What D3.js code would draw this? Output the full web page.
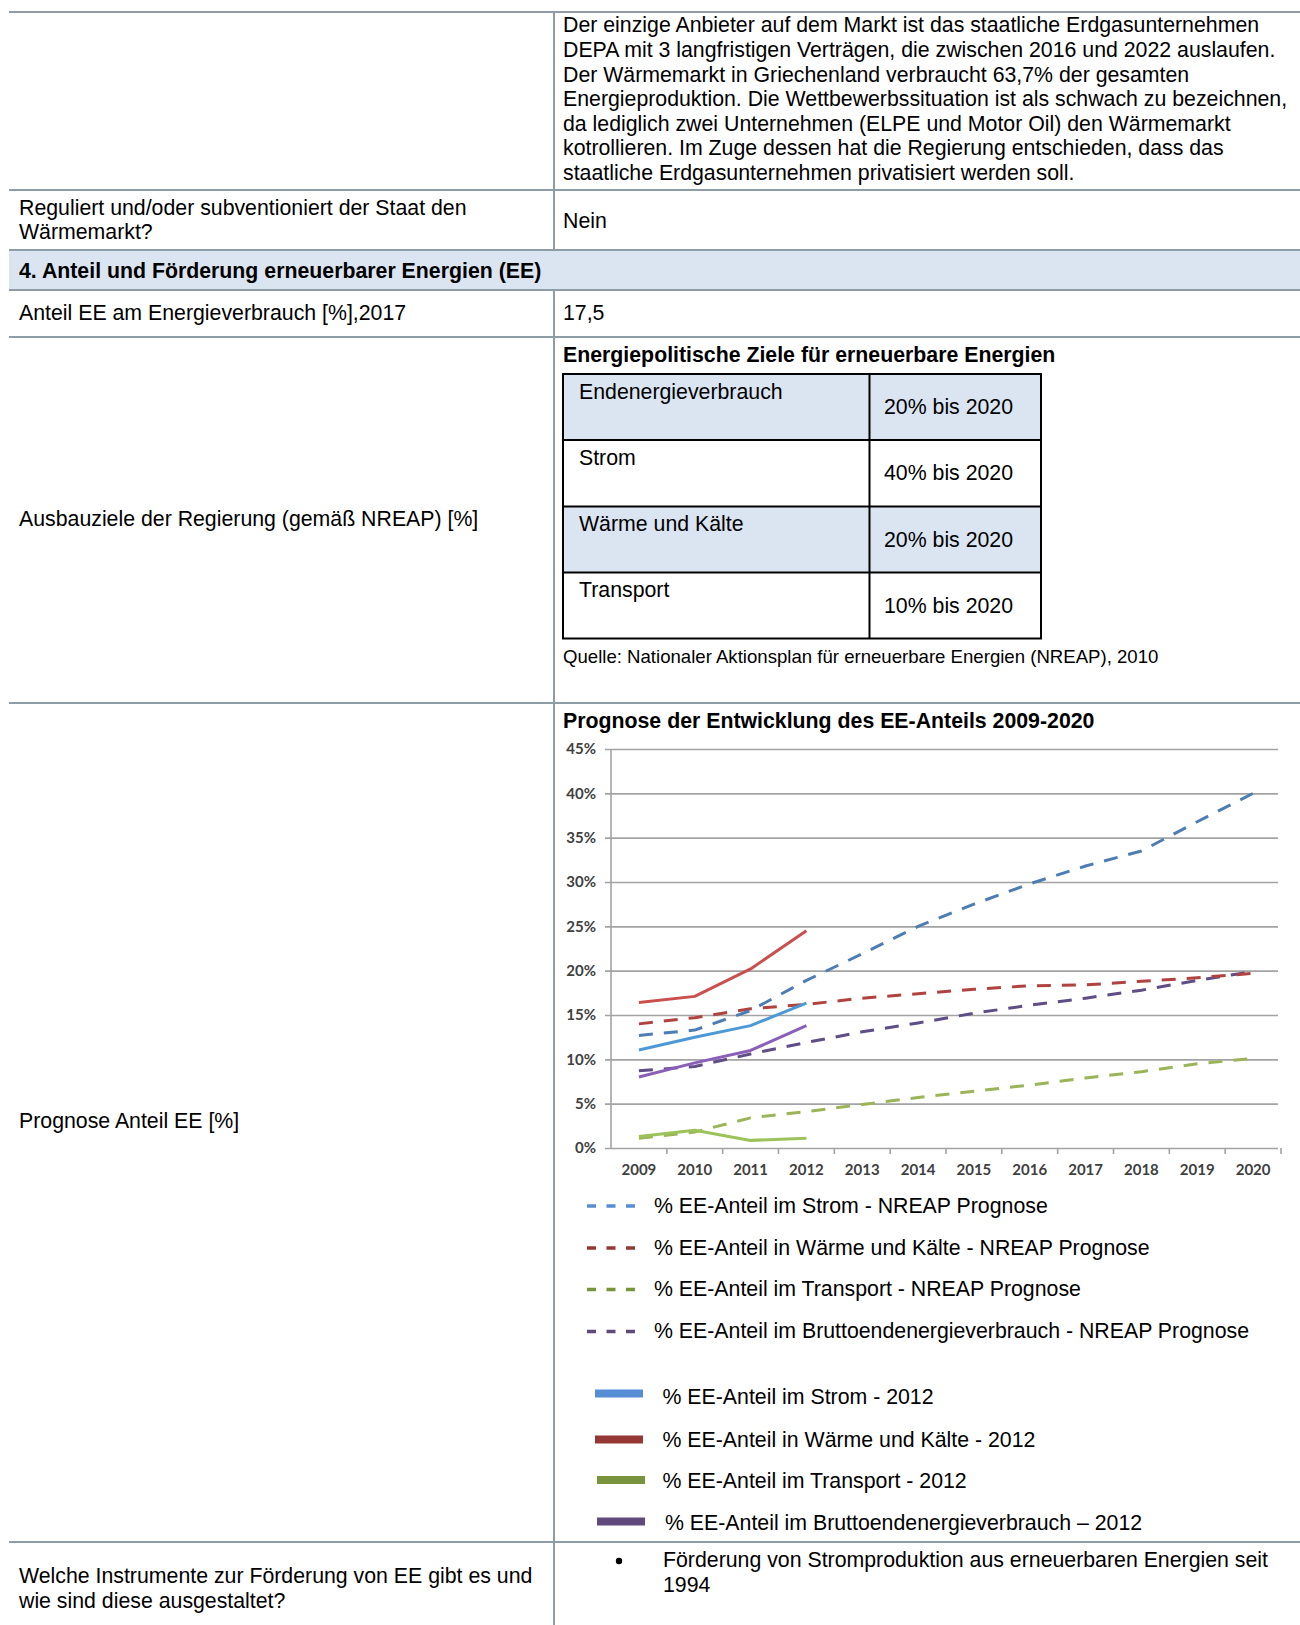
<!DOCTYPE html>
<html><head><meta charset="utf-8">
<script src="https://cdn.jsdelivr.net/npm/d3@7"></script>
<style>
html,body{margin:0;padding:0;background:#fff;}
svg{display:block;}
</style></head>
<body>
<script>
// ---- data ----
const years = ["2009","2010","2011","2012","2013","2014","2015","2016","2017","2018","2019","2020"];
const yTicks = [0,5,10,15,20,25,30,35,40,45];
const stromPrognose    = [12.7,13.3,15.5,18.9,21.9,25.0,27.5,29.8,31.8,33.5,36.8,40.0];
const waermePrognose   = [14.0,14.7,15.7,16.2,16.9,17.4,17.9,18.3,18.4,18.8,19.2,19.7];
const transportPrognose= [1.1,1.8,3.4,4.1,4.9,5.7,6.4,7.1,7.9,8.6,9.5,10.1];
const bruttoPrognose   = [8.7,9.2,10.6,11.9,13.1,14.1,15.2,16.1,16.9,17.8,18.9,19.9];
const istYears = ["2009","2010","2011","2012"];
const stromIst     = [11.05,12.5,13.8,16.35];
const waermeIst    = [16.4,17.1,20.2,24.5];
const transportIst = [1.3,2.0,0.85,1.1];
const bruttoIst    = [8.0,9.6,11.0,13.8];
const prognoseLabels = ["% EE-Anteil im Strom - NREAP Prognose","% EE-Anteil in Wärme und Kälte - NREAP Prognose","% EE-Anteil im Transport - NREAP Prognose","% EE-Anteil im Bruttoendenergieverbrauch - NREAP Prognose"];
const istLabels = ["% EE-Anteil im Strom - 2012","% EE-Anteil in Wärme und Kälte - 2012","% EE-Anteil im Transport - 2012","% EE-Anteil im Bruttoendenergieverbrauch – 2012"];
const zielKategorien = ["Endenergieverbrauch","Strom","Wärme und Kälte","Transport"];
const zielWerte = ["20% bis 2020","40% bis 2020","20% bis 2020","10% bis 2020"];

const W = 1300, H = 1625;
const svg = d3.select("body").append("svg").attr("width",W).attr("height",H);
const FONT = "'Liberation Sans', Arial, sans-serif";
const FS = 21.3;

function txt(x, cy, s, o={}) {
  const t = svg.append("text").attr("x",x).attr("y",cy + (o.fs||FS)*0.35)
    .attr("font-family",o.ff||FONT).attr("font-size",o.fs||FS)
    .attr("fill",o.fill||"#000").text(s);
  if (o.bold) t.attr("font-weight","bold");
  if (o.anchor) t.attr("text-anchor",o.anchor);
  return t;
}

// ---- outer table ----
const lineColor = "#8d9ca6";
svg.append("rect").attr("x",9).attr("y",250).attr("width",W-9).attr("height",40).attr("fill","#dbe5f1");
[12,190,250,290,337,703,1542].forEach(y=>{
  svg.append("line").attr("x1",9).attr("x2",W).attr("y1",y).attr("y2",y).attr("stroke",lineColor).attr("stroke-width",2);
});
svg.append("line").attr("x1",554).attr("x2",554).attr("y1",12).attr("y2",250).attr("stroke",lineColor).attr("stroke-width",2);
svg.append("line").attr("x1",554).attr("x2",554).attr("y1",290).attr("y2",H).attr("stroke",lineColor).attr("stroke-width",2);

const para = ["Der einzige Anbieter auf dem Markt ist das staatliche Erdgasunternehmen",
"DEPA mit 3 langfristigen Verträgen, die zwischen 2016 und 2022 auslaufen.",
"Der Wärmemarkt in Griechenland verbraucht 63,7% der gesamten",
"Energieproduktion. Die Wettbewerbssituation ist als schwach zu bezeichnen,",
"da lediglich zwei Unternehmen (ELPE und Motor Oil) den Wärmemarkt",
"kotrollieren. Im Zuge dessen hat die Regierung entschieden, dass das",
"staatliche Erdgasunternehmen privatisiert werden soll."];
para.forEach((s,i)=>txt(563, 25 + i*24.55, s));
txt(19, 208, "Reguliert und/oder subventioniert der Staat den");
txt(19, 232, "Wärmemarkt?");
txt(563, 220.5, "Nein");
txt(19, 270.5, "4. Anteil und Förderung erneuerbarer Energien (EE)", {bold:true});
txt(19, 313, "Anteil EE am Energieverbrauch [%],2017");
txt(563, 313, "17,5");
txt(19, 519, "Ausbauziele der Regierung (gemäß NREAP) [%]");
txt(563, 355, "Energiepolitische Ziele für erneuerbare Energien", {bold:true});

// inner table
const rowsY = [374,440,506.5,572.5,638.5];
zielKategorien.forEach((k,i)=>{
  if (i%2===0) svg.append("rect").attr("x",563).attr("y",rowsY[i]).attr("width",1041-563).attr("height",rowsY[i+1]-rowsY[i]).attr("fill","#dbe5f1");
});
rowsY.forEach(y=>svg.append("line").attr("x1",562).attr("x2",1042).attr("y1",y).attr("y2",y).attr("stroke","#000").attr("stroke-width",2));
[563,869.5,1041].forEach(x=>svg.append("line").attr("x1",x).attr("x2",x).attr("y1",rowsY[0]).attr("y2",rowsY[4]).attr("stroke","#000").attr("stroke-width",2));
zielKategorien.forEach((k,i)=>{
  txt(579, rowsY[i]+17.5, k);
  txt(884, rowsY[i]+33, zielWerte[i]);
});
txt(563, 656.5, "Quelle: Nationaler Aktionsplan für erneuerbare Energien (NREAP), 2010", {fs:18.6});

txt(19, 1121, "Prognose Anteil EE [%]");
txt(563, 721, "Prognose der Entwicklung des EE-Anteils 2009-2020", {bold:true});

// ---- chart ----
const x = d3.scaleBand().domain(years).range([611,1281]).padding(0);
const y = d3.scaleLinear().domain([0,45]).range([1148,749]);
const cx = d => x(d) + x.bandwidth()/2;
const grid = "#a3a3a3";

const gy = svg.append("g").attr("transform","translate(611,0)")
  .call(d3.axisLeft(y).tickValues(yTicks).tickSize(6).tickFormat(d=>d+"%"));
gy.select(".domain").remove();
gy.selectAll(".tick line").attr("x1",-6).attr("x2",667).attr("stroke",grid).attr("stroke-width",1.6);
gy.selectAll(".tick text").attr("x",-15).attr("font-family","Lato, 'Open Sans', sans-serif")
  .attr("font-weight","bold").attr("font-size",15).attr("fill","#404040");
svg.append("line").attr("x1",611).attr("x2",611).attr("y1",y(45)).attr("y2",y(0)).attr("stroke",grid).attr("stroke-width",1.6);

const gx = svg.append("g").attr("transform",`translate(0,${y(0)})`)
  .call(d3.axisBottom(x).tickSize(0).tickPadding(16));
gx.select(".domain").remove();
gx.selectAll(".tick text").attr("font-family","Lato, 'Open Sans', sans-serif")
  .attr("font-weight","bold").attr("font-size",15).attr("fill","#404040");
years.slice(1).concat(["end"]).forEach(yr=>{
  const xx = yr==="end" ? x.range()[1] : x(yr);
  svg.append("line").attr("x1",xx).attr("x2",xx).attr("y1",y(0)).attr("y2",y(0)+6).attr("stroke",grid).attr("stroke-width",1.6);
});

const line = d3.line().x((d,i)=>d[0]).y(d=>y(d[1]));
function drawSeries(cats, vals, color, dashed, w) {
  svg.append("path").datum(cats.map((c,i)=>[cx(c),vals[i]]))
    .attr("d",line).attr("fill","none").attr("stroke",color).attr("stroke-width",w||3)
    .attr("stroke-linejoin","round")
    .attr("stroke-dasharray",dashed?"14,11":null);
}
drawSeries(years, transportPrognose, "#9bb457", true);
drawSeries(years, bruttoPrognose, "#5f4d86", true);
drawSeries(years, waermePrognose, "#b0423f", true);
drawSeries(years, stromPrognose, "#4d7db2", true);
drawSeries(istYears, transportIst, "#9cc35a", false, 3.2);
drawSeries(istYears, bruttoIst, "#8a5fb8", false);
drawSeries(istYears, stromIst, "#4c99d6", false);
drawSeries(istYears, waermeIst, "#c9504e", false);

// ---- legend ----
const legColors = ["#558ed5","#953735","#77933c","#604a7b"];
const legDashY = [1206,1248,1289.5,1331.5];
prognoseLabels.forEach((s,i)=>{
  svg.append("line").attr("x1",587).attr("x2",635).attr("y1",legDashY[i]).attr("y2",legDashY[i])
    .attr("stroke",legColors[i]).attr("stroke-width",3.6).attr("stroke-dasharray","9,10.5");
  txt(654, legDashY[i]-0.5, s);
});
const legSolidY = [1393.5,1439.5,1480,1521.5];
const legTextY  = [1396.5,1439.5,1480.5,1522.5];
const legSolidX = [595,595,597,597];
istLabels.forEach((s,i)=>{
  svg.append("rect").attr("x",legSolidX[i]).attr("y",legSolidY[i]-4).attr("width",48).attr("height",8).attr("fill",legColors[i]);
  txt(i===3?665:662.5, legTextY[i], s);
});

// ---- last row ----
svg.append("circle").attr("cx",619).attr("cy",1561).attr("r",3.2).attr("fill","#000");
txt(663, 1560, "Förderung von Stromproduktion aus erneuerbaren Energien seit");
txt(663, 1584.5, "1994");
txt(19, 1576, "Welche Instrumente zur Förderung von EE gibt es und");
txt(19, 1600.5, "wie sind diese ausgestaltet?");
</script>
</body></html>
